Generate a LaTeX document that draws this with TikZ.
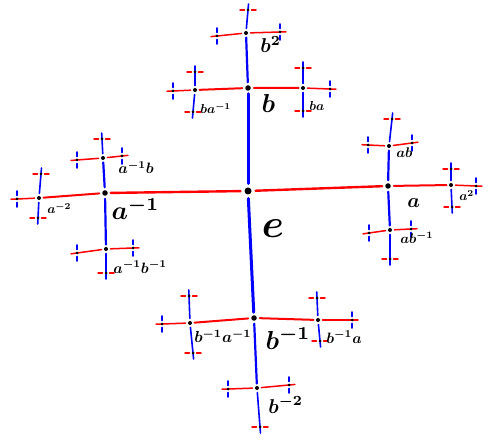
\documentclass[tikz,border=0pt]{standalone}
\usepackage{amsmath,amssymb}
\usetikzlibrary{positioning,backgrounds}

\begin{document}
\begin{tikzpicture}[x=1pt, y=-1pt,
  vtx/.style={circle, fill=black, inner sep=0pt},
  root/.style={vtx, minimum size=7pt, outer sep=4pt},
  lvlone/.style={vtx, minimum size=5.5pt, outer sep=3pt},
  lvltwo/.style={vtx, minimum size=4pt, outer sep=2.5pt},
  leaf/.style={vtx, minimum size=3pt, outer sep=1.5pt},
  aedge/.style={red, line width=2.4pt, line cap=round},
  bedge/.style={blue, line width=3pt, line cap=round},
  asub/.style={red, line width=2pt, line cap=round},
  bsub/.style={blue, line width=2.2pt, line cap=round},
  athin/.style={red, line width=1.5pt, line cap=round, shorten >=-9pt},
  bthin/.style={blue, line width=1.6pt, line cap=round, shorten >=-9pt},
  astub/.style={red, line width=1.5pt, line cap=round},
  bstub/.style={blue, line width=1.6pt, line cap=round},
  vdash/.style={insert path={++(0,-8) -- ++(0,4.5) ++(0,7) -- ++(0,4.5)}},
  hdash/.style={insert path={++(-8,0) -- ++(4.5,0) ++(7,0) -- ++(4.5,0)}},
  lbl/.style={anchor=base west, inner sep=0pt, font=\boldmath, scale=#1/10}
]
\useasboundingbox (0,0) rectangle (488,441);

% identity and its neighbours
\node[root]   (e)  at (248,191) {};
\node[lvlone] (a)  at (388,186) {};
\node[lvlone] (ai) at (105,193) {};
\node[lvlone] (b)  at (248,88)  {};
\node[lvlone] (bi) at (254,318) {};

% words of length two
\node[lvltwo] (a2)   at (451,185) {};
\node[lvltwo] (ab)   at (389,146) {};
\node[lvltwo] (abi)  at (390,230) {};
\node[lvltwo] (ai2)  at (39,198)  {};
\node[lvltwo] (aib)  at (103,158) {};
\node[lvltwo] (aibi) at (106,249) {};
\node[lvltwo] (b2)   at (246,33)  {};
\node[lvltwo] (ba)   at (303,88)  {};
\node[lvltwo] (bai)  at (195,90)  {};
\node[lvltwo] (bi2)  at (257,388) {};
\node[lvltwo] (bia)  at (318,320) {};
\node[lvltwo] (biai) at (190,323) {};

% words of length three (reached by a)
\node[leaf] (a3)     at (476,186) {};
\node[leaf] (ai3)    at (17,199)  {};
\node[leaf] (aba)    at (412,143) {};
\node[leaf] (abai)   at (368,145) {};
\node[leaf] (abia)   at (411,229) {};
\node[leaf] (abiai)  at (369,233) {};
\node[leaf] (aiba)   at (122,156) {};
\node[leaf] (aibai)  at (77,160)  {};
\node[leaf] (aibia)  at (133,248) {};
\node[leaf] (aibiai) at (77,253)  {};
\node[leaf] (b2a)    at (280,32)  {};
\node[leaf] (b2ai)   at (217,36)  {};
\node[leaf] (ba2)    at (330,89)  {};
\node[leaf] (bai2)   at (173,91)  {};
\node[leaf] (bi2a)   at (289,385) {};
\node[leaf] (bi2ai)  at (228,389) {};
\node[leaf] (bia2)   at (352,320) {};
\node[leaf] (biai2)  at (162,324) {};

% words of length three (reached by b)
\node[leaf] (a2b)    at (451,169) {};
\node[leaf] (a2bi)   at (452,207) {};
\node[leaf] (ab2)    at (392,119) {};
\node[leaf] (abi2)   at (390,259) {};
\node[leaf] (ai2b)   at (41,174)  {};
\node[leaf] (ai2bi)  at (38,218)  {};
\node[leaf] (aib2)   at (102,139) {};
\node[leaf] (aibi2)  at (106,273) {};
\node[leaf] (b3)     at (248,10)  {};
\node[leaf] (bab)    at (303,68)  {};
\node[leaf] (babi)   at (303,111) {};
\node[leaf] (baib)   at (195,72)  {};
\node[leaf] (baibi)  at (193,112) {};
\node[leaf] (bi3)    at (260,427) {};
\node[leaf] (biab)   at (317,298) {};
\node[leaf] (biabi)  at (320,341) {};
\node[leaf] (biaib)  at (189,296) {};
\node[leaf] (biaibi) at (193,353) {};

\begin{scope}[on background layer]
\draw[aedge] (ai) -- (e);
\draw[aedge] (e) -- (a);
\draw[bedge] (b) -- (e);
\draw[bedge] (e) -- (bi);

\draw[asub] (a) -- (a2) (ai) -- (ai2) (b) -- (ba) (b) -- (bai)
            (bi) -- (bia) (bi) -- (biai);
\draw[bsub] (a) -- (ab) (a) -- (abi) (ai) -- (aib) (ai) -- (aibi)
            (b) -- (b2) (bi) -- (bi2);

\draw[athin] (a2) edge (a3) (ai2) edge (ai3) (ab) edge (aba) (ab) edge (abai)
             (abi) edge (abia) (abi) edge (abiai) (aib) edge (aiba) (aib) edge (aibai)
             (aibi) edge (aibia) (aibi) edge (aibiai) (b2) edge (b2a) (b2) edge (b2ai)
             (ba) edge (ba2) (bai) edge (bai2) (bi2) edge (bi2a) (bi2) edge (bi2ai)
             (bia) edge (bia2) (biai) edge (biai2);
\draw[bthin] (a2) edge (a2b) (a2) edge (a2bi) (ab) edge (ab2) (abi) edge (abi2)
             (ai2) edge (ai2b) (ai2) edge (ai2bi) (aib) edge (aib2) (aibi) edge (aibi2)
             (b2) edge (b3) (ba) edge (bab) (ba) edge (babi) (bai) edge (baib)
             (bai) edge (baibi) (bi2) edge (bi3) (bia) edge (biab) (bia) edge (biabi)
             (biai) edge (biaib) (biai) edge (biaibi);

\draw[bstub] (a3)[vdash] (ai3)[vdash] (aba)[vdash] (abai)[vdash] (abia)[vdash]
             (abiai)[vdash] (aiba)[vdash] (aibai)[vdash] (aibia)[vdash] (aibiai)[vdash]
             (b2a)[vdash] (b2ai)[vdash] (ba2)[vdash] (bai2)[vdash] (bi2a)[vdash]
             (bi2ai)[vdash] (bia2)[vdash] (biai2)[vdash];
\draw[astub] (a2b)[hdash] (a2bi)[hdash] (ab2)[hdash] (abi2)[hdash] (ai2b)[hdash]
             (ai2bi)[hdash] (aib2)[hdash] (aibi2)[hdash] (b3)[hdash] (bab)[hdash]
             (babi)[hdash] (baib)[hdash] (baibi)[hdash] (bi3)[hdash] (biab)[hdash]
             (biabi)[hdash] (biaib)[hdash] (biaibi)[hdash];
\end{scope}

% labels
\node[lbl=40] (le)    at (261,238) {$e$};
\node[lbl=26] (lb)    at (261,113) {$b$};
\node[lbl=26] (lai)   at (111,220) {$a^{-1}$};
\node[lbl=26] (lbi)   at (265,349) {$b^{-1}$};
\node[lbl=20] (la)    at (407,208) {$a$};
\node[lbl=20] (lb2)   at (260,53)  {$b^2$};
\node[lbl=20] (lbi2)  at (268,413) {$b^{-2}$};
\node[lbl=16] (lbiai) at (194,343) {$b^{-1}a^{-1}$};
\node[lbl=15] (lbia)  at (326,343) {$b^{-1}a$};
\node[lbl=15] (laib)  at (118,174) {$a^{-1}b$};
\node[lbl=15] (laibi) at (113,273) {$a^{-1}b^{-1}$};
\node[lbl=14] (lab)   at (396,158) {$ab$};
\node[lbl=14] (labi)  at (400,244) {$ab^{-1}$};
\node[lbl=13] (lbai)  at (200,114) {$ba^{-1}$};
\node[lbl=13] (lba)   at (309,111) {$ba$};
\node[lbl=13] (la2)   at (459,201) {$a^2$};
\node[lbl=13] (lai2)  at (47,214)  {$a^{-2}$};
\end{tikzpicture}
\end{document}
